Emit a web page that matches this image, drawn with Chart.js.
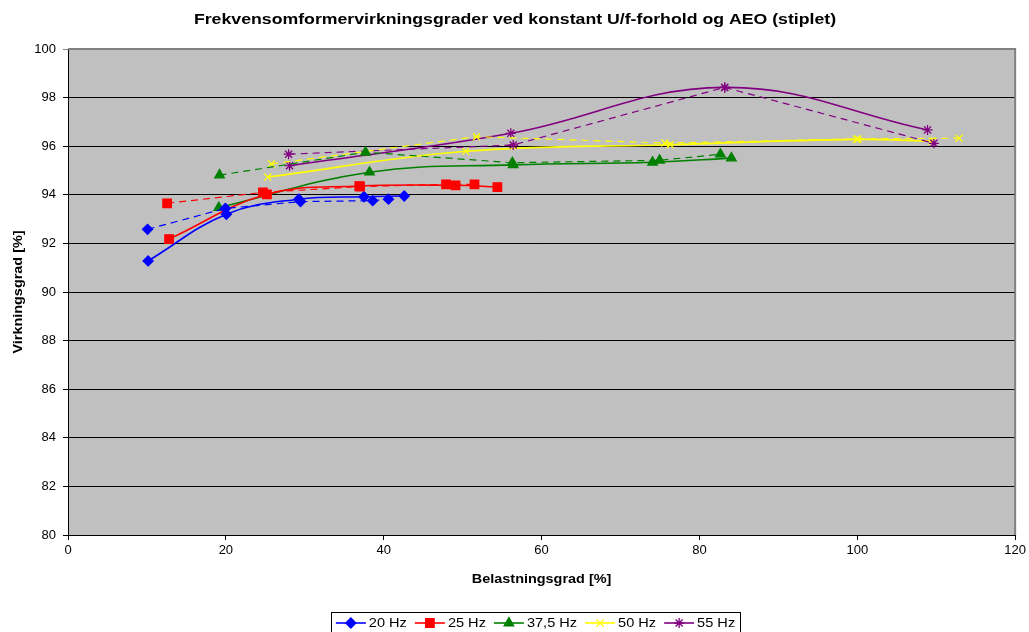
<!DOCTYPE html>
<html>
<head>
<meta charset="utf-8">
<script src="https://cdn.jsdelivr.net/npm/chart.js@4/dist/chart.umd.min.js"></script>
<style>
html,body{margin:0;padding:0;background:#fff;}
#wrap{width:1029px;height:632px;position:relative;}
</style>
</head>
<body>
<div id="wrap"><canvas id="c" width="1029" height="632"></canvas></div>
<script>
// ---- data ----
const seriesNames = ['20 Hz', '25 Hz', '37,5 Hz', '50 Hz', '55 Hz'];
const xTicks = [0, 20, 40, 60, 80, 100, 120];
const yTicks = [80, 82, 84, 86, 88, 90, 92, 94, 96, 98, 100];
const chartTitle = 'Frekvensomformervirkningsgrader ved konstant U/f-forhold og AEO (stiplet)';
const xTitle = 'Belastningsgrad [%]';
const yTitle = 'Virkningsgrad [%]';

// constant U/f (solid)
const hz20_x = [10.15, 20.07, 29.25, 37.5, 42.6];
const hz20_y = [91.28, 93.20, 93.82, 93.92, 93.95];
const hz25_x = [12.81, 25.2, 36.9, 49.1, 54.4];
const hz25_y = [92.18, 94.02, 94.36, 94.39, 94.32];
const hz375_x = [19.1, 38.2, 56.4, 74.06, 84.05];
const hz375_y = [93.47, 94.93, 95.23, 95.34, 95.51];
const hz50_x = [25.3, 50.4, 76.3, 99.9, 109.5];
const hz50_y = [94.73, 95.79, 96.06, 96.28, 96.20];
const hz55_x = [28.07, 56.1, 83.2, 108.9];
const hz55_y = [95.20, 96.53, 98.42, 96.67];

// AEO (dashed)
const aeo20_x = [10.08, 19.94, 29.46, 38.6, 40.6];
const aeo20_y = [92.58, 93.44, 93.72, 93.76, 93.82];
const aeo25_x = [12.56, 24.7, 37.0, 47.9, 51.5];
const aeo25_y = [93.65, 94.10, 94.34, 94.43, 94.43];
const aeo375_x = [19.2, 37.7, 56.3, 74.95, 82.66];
const aeo375_y = [94.81, 95.75, 95.32, 95.42, 95.67];
const aeo50_x = [25.76, 51.76, 75.6, 100.1, 112.9];
const aeo50_y = [95.27, 96.39, 96.13, 96.30, 96.33];
const aeo55_x = [27.95, 56.4, 83.2, 109.7];
const aeo55_y = [95.67, 96.05, 98.42, 96.12];

// ---- styles ----
const colors = ['#0000FF', '#FF0000', '#008000', '#FFFF00', '#800080'];
const pStyles = ['rectRot', 'rect', 'triangle', 'crossRot', 'star'];
const pRadius = [5, 6, 5.5, 5, 5];
const FONT = "'Liberation Sans', Arial, Helvetica, sans-serif";

function pts(xs, ys) { return xs.map((x, i) => ({x: x, y: ys[i]})); }

const solid = [[hz20_x, hz20_y], [hz25_x, hz25_y], [hz375_x, hz375_y], [hz50_x, hz50_y], [hz55_x, hz55_y]];
const dashed = [[aeo20_x, aeo20_y], [aeo25_x, aeo25_y], [aeo375_x, aeo375_y], [aeo50_x, aeo50_y], [aeo55_x, aeo55_y]];

const datasets = [];
dashed.forEach((s, i) => {
  datasets.push({
    label: seriesNames[i] + ' AEO',
    data: pts(s[0], s[1]),
    showLine: true,
    borderColor: colors[i],
    backgroundColor: colors[i],
    borderWidth: 1.2,
    borderDash: [7, 5],
    tension: 0,
    pointStyle: pStyles[i],
    pointRadius: pRadius[i],
    pointBorderWidth: 1.3,
    pointBackgroundColor: colors[i],
    pointBorderColor: colors[i]
  });
});
solid.forEach((s, i) => {
  datasets.push({
    label: seriesNames[i],
    data: pts(s[0], s[1]),
    showLine: true,
    borderColor: colors[i],
    backgroundColor: colors[i],
    borderWidth: 1.6,
    tension: 0.4,
    pointStyle: pStyles[i],
    pointRadius: pRadius[i],
    pointBorderWidth: 1.3,
    pointBackgroundColor: colors[i],
    pointBorderColor: colors[i]
  });
});

// draw text stretched horizontally (along its baseline) by sx, centred at (x, y)
function stretchedText(ctx, text, x, y, sx, rot) {
  ctx.save();
  ctx.translate(x, y);
  if (rot) ctx.rotate(rot);
  ctx.scale(sx, 1);
  ctx.textAlign = 'center';
  ctx.textBaseline = 'middle';
  ctx.fillText(text, 0, 0);
  ctx.restore();
}

const decor = {
  id: 'decor',
  beforeDraw(chart) {
    const ctx = chart.ctx, a = chart.chartArea;
    ctx.save();
    ctx.fillStyle = '#ffffff';
    ctx.fillRect(0, 0, chart.width, chart.height);
    ctx.fillStyle = '#C0C0C0';
    ctx.fillRect(a.left, a.top, a.right - a.left, a.bottom - a.top);
    ctx.restore();
  },
  beforeDatasetsDraw(chart) {
    const ctx = chart.ctx, a = chart.chartArea;
    ctx.save();
    ctx.strokeStyle = '#808080';
    ctx.lineWidth = 2;
    ctx.beginPath();
    ctx.moveTo(a.left, a.top);
    ctx.lineTo(a.right, a.top);
    ctx.lineTo(a.right, a.bottom);
    ctx.stroke();
    ctx.restore();
  },
  afterDraw(chart) {
    const ctx = chart.ctx, a = chart.chartArea;
    ctx.save();
    ctx.fillStyle = '#000';
    // title
    ctx.font = 'bold 15px ' + FONT;
    stretchedText(ctx, chartTitle, 515, 20, 1.18, 0);
    // axis titles
    ctx.font = 'bold 13px ' + FONT;
    stretchedText(ctx, xTitle, (a.left + a.right) / 2, 579, 1.11, 0);
    stretchedText(ctx, yTitle, 18, (a.top + a.bottom) / 2, 1.11, -Math.PI / 2);

    // legend
    const sx = 1.12;
    ctx.font = '13px ' + FONT;
    const lineLen = 30, gapT = 3, gapE = 8;
    let total = 0;
    const widths = seriesNames.map(n => ctx.measureText(n).width * sx);
    widths.forEach((w, i) => { total += lineLen + gapT + w + (i < widths.length - 1 ? gapE : 0); });
    const padL = 5, padR = 5;
    const cx = 535.5;
    let x = cx - total / 2;
    const y = 623;
    ctx.strokeStyle = '#000';
    ctx.lineWidth = 1;
    ctx.strokeRect(Math.round(x - padL) + 0.5, 612.5, Math.round(total + padL + padR), 24);
    seriesNames.forEach((n, i) => {
      ctx.strokeStyle = colors[i];
      ctx.fillStyle = colors[i];
      ctx.lineWidth = 1.6;
      ctx.beginPath();
      ctx.moveTo(x, y);
      ctx.lineTo(x + lineLen, y);
      ctx.stroke();
      ctx.lineWidth = 1.3;
      Chart.helpers.drawPoint(ctx, {pointStyle: pStyles[i], radius: pRadius[i], rotation: 0, borderWidth: 1.3}, x + lineLen / 2, y);
      ctx.fillStyle = '#000';
      stretchedText(ctx, n, x + lineLen + gapT + widths[i] / 2, y, sx, 0);
      x += lineLen + gapT + widths[i] + gapE;
    });
    ctx.restore();
  }
};

new Chart(document.getElementById('c'), {
  type: 'scatter',
  data: {datasets: datasets},
  plugins: [decor],
  options: {
    responsive: false,
    devicePixelRatio: 1,
    animation: false,
    layout: {padding: {top: 49, right: 12, left: 0, bottom: 0}},
    plugins: {legend: {display: false}, title: {display: false}, tooltip: {enabled: false}},
    scales: {
      x: {
        type: 'linear',
        min: xTicks[0], max: xTicks[xTicks.length - 1],
        afterFit(s) { s.height = 97; },
        afterBuildTicks(s) { s.ticks = xTicks.map(v => ({value: v})); },
        ticks: {color: '#000', font: {family: FONT, size: 13}, padding: 3, maxRotation: 0},
        grid: {drawOnChartArea: false, drawTicks: true, tickLength: 5, color: '#000', lineWidth: 1},
        border: {display: true, color: '#000', width: 1},
        title: {display: false}
      },
      y: {
        type: 'linear',
        min: yTicks[0], max: yTicks[yTicks.length - 1],
        afterFit(s) { s.width = 68; },
        afterBuildTicks(s) { s.ticks = yTicks.map(v => ({value: v})); },
        ticks: {color: '#000', font: {family: FONT, size: 13}, padding: 7},
        grid: {drawTicks: true, tickLength: 5, lineWidth: 1, color: (c) => (c.tick && c.tick.value === 100) ? '#808080' : '#000'},
        border: {display: true, color: '#000', width: 1},
        title: {display: false}
      }
    }
  }
});
</script>
</body>
</html>
